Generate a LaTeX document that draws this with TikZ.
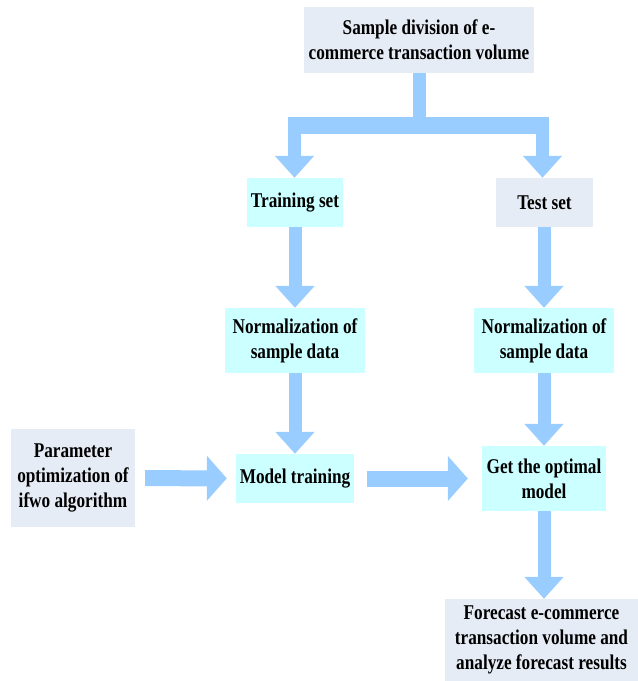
\documentclass[tikz,border=0pt]{standalone}
\usepackage{fontspec}
\setmainfont[FakeStretch=0.82]{Liberation Serif}
\usetikzlibrary{arrows.meta}
\definecolor{cyanbox}{RGB}{204,255,255}
\definecolor{graybox}{RGB}{230,236,246}
\definecolor{arrowc}{RGB}{153,204,255}
\begin{document}
\begin{tikzpicture}[x=1pt,y=-1pt,
  box/.style={inner sep=0pt, align=center, font=\fontsize{21}{25}\selectfont\bfseries, text=black},
  cbox/.style={box, fill=cyanbox},
  gbox/.style={box, fill=graybox},
  varrow/.style={draw=arrowc, line width=13pt, -{Triangle[width=38pt,length=22pt]}},
  harrow/.style={draw=arrowc, line width=16pt, -{Triangle[width=44pt,length=20pt]}},
  bar/.style={draw=arrowc},
]
\useasboundingbox (0,0) rectangle (638,681);
\node[gbox, minimum width=230pt, minimum height=66pt] (top) at (419,40) {Sample division of e-\\commerce transaction volume};
\node[cbox, minimum width=96pt, minimum height=49pt] (train) at (295,202.5) {Training set};
\node[gbox, minimum width=97pt, minimum height=49pt] (test) at (544.5,202.5) {Test set};
\node[cbox, minimum width=140pt, minimum height=65pt] (norm1) at (295,340.5) {Normalization of\\sample data};
\node[cbox, minimum width=140pt, minimum height=65pt] (norm2) at (544,340.5) {Normalization of\\sample data};
\node[gbox, minimum width=124pt, minimum height=98pt] (param) at (73,478) {Parameter\\optimization of\\ifwo algorithm};
\node[cbox, minimum width=118pt, minimum height=49pt] (model) at (295,478.5) {Model training};
\node[cbox, minimum width=124pt, minimum height=65pt] (optimal) at (544,478.5) {Get the optimal\\model};
\node[gbox, minimum width=193pt, minimum height=82pt] (forecast) at (541.5,640) {Forecast e-commerce\\transaction volume and\\analyze forecast results};

% split connector
\coordinate (barL) at (288,125.5);
\coordinate (barR) at (549,125.5);
\coordinate (bL) at (294.5,133);
\coordinate (bR) at (542.5,133);
\draw[bar, line width=13pt] (top.south) -- (top.south |- barL);
\draw[bar, line width=17pt] (barL) -- (barR);
\draw[varrow] (bL) -- (bL |- train.north);
\draw[varrow] (bR) -- (bR |- test.north);

\draw[varrow] (train) -- (norm1);
\draw[varrow] (norm2.north |- test.south) -- (norm2.north);
\draw[varrow] (norm1) -- (model);
\draw[varrow] (norm2) -- (optimal);
\draw[varrow] (optimal.south) -- (optimal.south |- forecast.north);
\draw[harrow, shorten <=10pt, shorten >=9pt] (param) -- (model);
\draw[harrow, shorten <=13pt, shorten >=14pt] (model) -- (optimal);
\end{tikzpicture}
\end{document}
